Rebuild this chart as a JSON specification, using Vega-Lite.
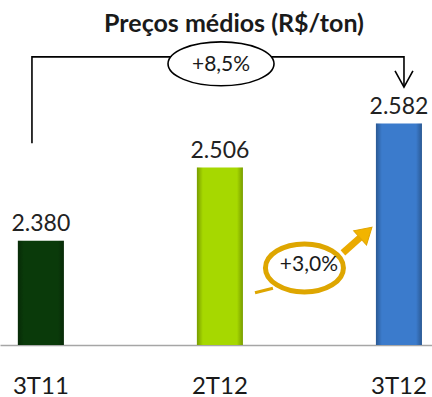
{
  "$schema": "https://vega.github.io/schema/vega-lite/v6.json",
  "width": 432,
  "height": 309,
  "autosize": {"type": "none"},
  "padding": {"top": 36, "bottom": 52, "left": 0, "right": 0},
  "background": "white",
  "config": {"view": {"stroke": null}},
  "title": {
    "text": "Preços médios (R$/ton)",
    "font": "Lato",
    "fontSize": 25,
    "fontWeight": "bold",
    "color": "#1a1a1a",
    "anchor": "middle",
    "dx": 18,
    "offset": -21,
    "baseline": "alphabetic"
  },
  "datasets": {
    "precos": [
      {"trimestre": "3T11", "preco": 2380, "rotulo": "2.380"},
      {"trimestre": "2T12", "preco": 2506, "rotulo": "2.506"},
      {"trimestre": "3T12", "preco": 2582, "rotulo": "2.582"}
    ],
    "colchete": [
      {"grupo": "colchete", "ordem": 1, "pos": -0.05, "valor": 2548},
      {"grupo": "colchete", "ordem": 2, "pos": -0.05, "valor": 2697},
      {"grupo": "colchete", "ordem": 3, "pos": 2.028, "valor": 2697},
      {"grupo": "colchete", "ordem": 4, "pos": 2.028, "valor": 2645},
      {"grupo": "ponta", "ordem": 1, "pos": 1.978, "valor": 2673},
      {"grupo": "ponta", "ordem": 2, "pos": 2.028, "valor": 2645},
      {"grupo": "ponta", "ordem": 3, "pos": 2.078, "valor": 2673}
    ],
    "seta": [
      {"parte": "cauda", "ordem": 1, "pos": 1.296, "valor": 2298},
      {"parte": "cauda", "ordem": 2, "pos": 1.196, "valor": 2290},
      {"parte": "haste", "ordem": 1, "pos": 1.687, "valor": 2359},
      {"parte": "haste", "ordem": 2, "pos": 1.782, "valor": 2385}
    ],
    "ponta_seta": [
      {"pos": 1.816, "valor": 2394}
    ],
    "baloes": [
      {"rotulo": "+8,5%", "pos": 1.006, "valor": 2685, "pos_texto": 1.006, "valor_texto": 2683},
      {"rotulo": "+3,0%", "pos": 1.472, "valor": 2333, "pos_texto": 1.497, "valor_texto": 2338}
    ]
  },
  "layer": [
    {
      "data": {"name": "precos"},
      "encoding": {
        "x": {
          "field": "trimestre",
          "type": "nominal",
          "sort": null,
          "scale": {"paddingInner": 0.743, "paddingOuter": 0.078, "align": 0.64},
          "axis": {
            "title": null,
            "ticks": false,
            "labelAngle": 0,
            "labelFont": "Lato",
            "labelFontSize": 24,
            "labelColor": "#1a1a1a",
            "labelPadding": 29,
            "domainColor": "#a6a6a6",
            "domainWidth": 1.5,
            "grid": false
          }
        },
        "y": {
          "field": "preco",
          "type": "quantitative",
          "scale": {"domain": [2200, 2733], "zero": false, "nice": false},
          "axis": null
        }
      },
      "layer": [
        {
          "mark": {"type": "bar"},
          "encoding": {
            "y2": {"datum": 2200},
            "color": {
              "field": "trimestre",
              "type": "nominal",
              "scale": {"domain": ["3T11", "2T12", "3T12"], "range": ["#0a3a0a", "#a6d800", "#3b7bcc"]},
              "legend": null
            }
          }
        },
        {
          "mark": {
            "type": "bar",
            "fill": {
              "gradient": "linear", "x1": 0, "y1": 0, "x2": 1, "y2": 0,
              "stops": [
                {"offset": 0, "color": "rgba(0,0,0,0.28)"},
                {"offset": 0.13, "color": "rgba(0,0,0,0)"},
                {"offset": 0.87, "color": "rgba(0,0,0,0)"},
                {"offset": 1, "color": "rgba(0,0,0,0.28)"}
              ]
            }
          },
          "encoding": {"y2": {"datum": 2200}}
        },
        {
          "mark": {"type": "text", "font": "Lato", "fontSize": 23, "baseline": "alphabetic", "dy": -10, "color": "#222222"},
          "encoding": {"text": {"field": "rotulo"}}
        }
      ]
    },
    {
      "layer": [
        {
          "data": {"name": "colchete"},
          "mark": {"type": "line", "color": "#000000", "strokeWidth": 1.6},
          "encoding": {
            "x": {"field": "pos", "type": "quantitative", "scale": {"domain": [-0.2285, 2.1845], "zero": false, "nice": false}, "axis": null},
            "y": {"field": "valor", "type": "quantitative", "scale": {"domain": [2200, 2733], "zero": false, "nice": false}, "axis": null},
            "detail": {"field": "grupo"},
            "order": {"field": "ordem"}
          }
        },
        {
          "data": {"name": "seta"},
          "transform": [{"filter": "datum.parte == 'cauda'"}],
          "mark": {"type": "line", "color": "#dea600", "strokeWidth": 3},
          "encoding": {
            "x": {"field": "pos", "type": "quantitative", "scale": {"domain": [-0.2285, 2.1845], "zero": false, "nice": false}, "axis": null},
            "y": {"field": "valor", "type": "quantitative", "scale": {"domain": [2200, 2733], "zero": false, "nice": false}, "axis": null},
            "order": {"field": "ordem"}
          }
        },
        {
          "data": {"name": "seta"},
          "transform": [{"filter": "datum.parte == 'haste'"}],
          "mark": {"type": "line", "color": "#eaaa00", "strokeWidth": 7},
          "encoding": {
            "x": {"field": "pos", "type": "quantitative", "scale": {"domain": [-0.2285, 2.1845], "zero": false, "nice": false}, "axis": null},
            "y": {"field": "valor", "type": "quantitative", "scale": {"domain": [2200, 2733], "zero": false, "nice": false}, "axis": null},
            "order": {"field": "ordem"}
          }
        },
        {
          "data": {"name": "ponta_seta"},
          "mark": {"type": "point", "shape": "M 1 0 L -1 -1.2 L -1 1.2 Z", "size": 256, "angle": -42, "filled": true, "fill": "#f2b400", "stroke": "#e0a400", "strokeWidth": 1, "opacity": 1},
          "encoding": {
            "x": {"field": "pos", "type": "quantitative", "scale": {"domain": [-0.2285, 2.1845], "zero": false, "nice": false}, "axis": null},
            "y": {"field": "valor", "type": "quantitative", "scale": {"domain": [2200, 2733], "zero": false, "nice": false}, "axis": null}
          }
        },
        {
          "data": {"name": "baloes"},
          "transform": [{"filter": "datum.rotulo == '+8,5%'"}],
          "mark": {"type": "point", "shape": "M -1 0 A 1 0.415 0 1 1 1 0 A 1 0.415 0 1 1 -1 0 Z", "size": 11236, "filled": true, "fill": "#ffffff", "stroke": "#000000", "strokeWidth": 1.6, "opacity": 1},
          "encoding": {
            "x": {"field": "pos", "type": "quantitative", "scale": {"domain": [-0.2285, 2.1845], "zero": false, "nice": false}, "axis": null},
            "y": {"field": "valor", "type": "quantitative", "scale": {"domain": [2200, 2733], "zero": false, "nice": false}, "axis": null}
          }
        },
        {
          "data": {"name": "baloes"},
          "transform": [{"filter": "datum.rotulo == '+3,0%'"}],
          "mark": {"type": "point", "shape": "M -1 0 A 1 0.615 0 1 1 1 0 A 1 0.615 0 1 1 -1 0 Z", "size": 6084, "filled": true, "fill": "#ffffff", "stroke": "#dea600", "strokeWidth": 5, "opacity": 1},
          "encoding": {
            "x": {"field": "pos", "type": "quantitative", "scale": {"domain": [-0.2285, 2.1845], "zero": false, "nice": false}, "axis": null},
            "y": {"field": "valor", "type": "quantitative", "scale": {"domain": [2200, 2733], "zero": false, "nice": false}, "axis": null}
          }
        },
        {
          "data": {"name": "baloes"},
          "mark": {"type": "text", "font": "Lato", "fontSize": 21, "baseline": "middle", "align": "center", "color": "#1a1a1a"},
          "encoding": {
            "x": {"field": "pos_texto", "type": "quantitative", "scale": {"domain": [-0.2285, 2.1845], "zero": false, "nice": false}, "axis": null},
            "y": {"field": "valor_texto", "type": "quantitative", "scale": {"domain": [2200, 2733], "zero": false, "nice": false}, "axis": null},
            "text": {"field": "rotulo"}
          }
        }
      ]
    }
  ],
  "resolve": {"scale": {"x": "independent"}}
}
